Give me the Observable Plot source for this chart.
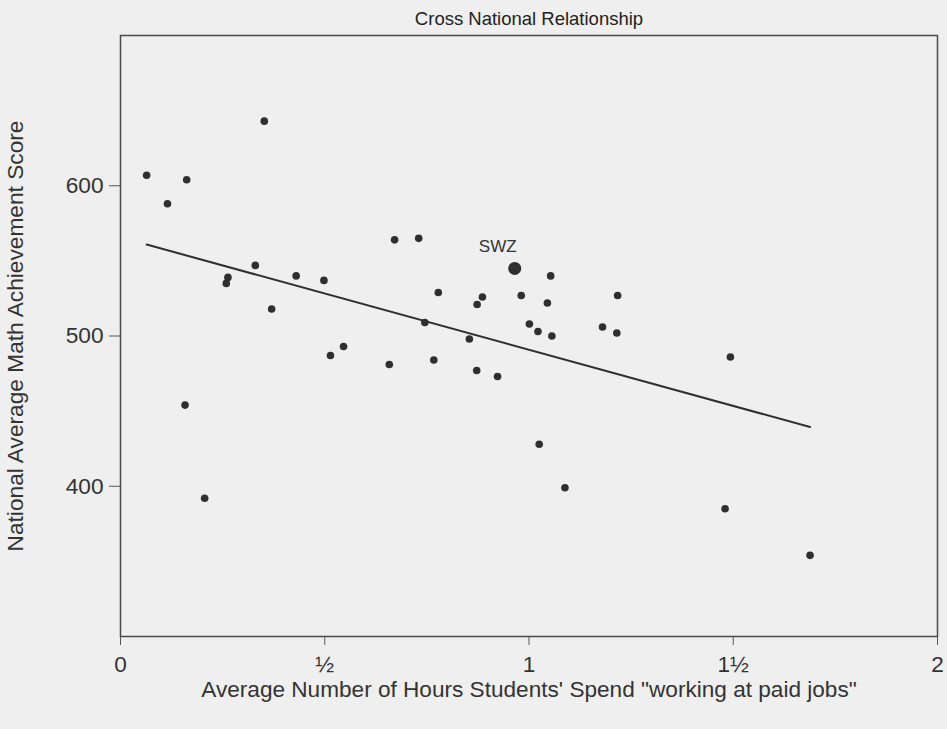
<!DOCTYPE html>
<html><head><meta charset="utf-8">
<script src="https://cdn.jsdelivr.net/npm/d3@7"></script>
<script src="https://cdn.jsdelivr.net/npm/@observablehq/plot@0.6"></script>
<style>
html,body{margin:0;padding:0;background:#efefef;}
#chart svg{display:block;}
</style></head><body><div id="chart"></div>
<script>
const hours = [0.064,0.162,0.115,0.352,0.330,0.263,0.259,0.430,0.498,0.370,
  0.671,0.730,0.965,0.778,0.886,0.873,0.981,0.745,0.854,1.001,
  1.022,0.546,1.053,1.045,1.217,1.056,1.180,1.215,0.158,0.206,
  0.514,0.658,0.767,0.872,0.923,1.025,1.493,1.088,1.480,1.688];
const scores = [607,604,588,643,547,539,535,540,537,518,
  564,565,545,529,526,521,527,509,498,508,
  503,493,540,522,527,500,506,502,454,392,
  487,481,484,477,473,428,486,399,385,354];
const labels = ["","","","","","","","","","",
  "","","SWZ","","","","","","","",
  "","","","","","","","","","",
  "","","","","","","","","",""];
const xTicks = [0, 0.5, 1, 1.5, 2];
const xTickLabels = ["0", "½", "1", "1½", "2"];
const yTicks = [400, 500, 600];
const title = "Cross National Relationship";
const xLabel = "Average Number of Hours Students' Spend \"working at paid jobs\"";
const yLabel = "National Average Math Achievement Score";

const data = hours.map((h, i) => ({hours: h, score: scores[i], label: labels[i]}));
const ink = "#2f2f2f";

const chart = Plot.plot({
  width: 947, height: 729,
  marginLeft: 120, marginRight: 10, marginTop: 35, marginBottom: 93,
  style: {background: "#efefef", fontFamily: "Liberation Sans, Arial, sans-serif", fontSize: "22px", color: "#333"},
  x: {domain: [0, 2], labelArrow: "none"},
  y: {domain: [300, 700], labelArrow: "none"},
  marks: [
    Plot.frame({stroke: "#4a4a4a", strokeWidth: 1.5}),
    Plot.axisX({ticks: xTicks, tickFormat: d => xTickLabels[xTicks.indexOf(d)], tickSize: 9, tickPadding: 10,
      label: xLabel, labelAnchor: "center", labelOffset: 60, labelArrow: "none", fontSize: 22.6, stroke: "#555", fill: "#333"}),
    Plot.axisY({ticks: yTicks, tickSize: 11, tickPadding: 6,
      label: yLabel, labelAnchor: "center", labelOffset: 114, labelArrow: "none", fontSize: 22.7, stroke: "#555", fill: "#333"}),
    Plot.linearRegressionY(data, {x: "hours", y: "score", ci: 0, stroke: ink, strokeWidth: 2}),
    Plot.dot(data.filter(d => !d.label), {x: "hours", y: "score", r: 3.8, fill: ink, stroke: "none"}),
    Plot.dot(data.filter(d => d.label), {x: "hours", y: "score", r: 6.5, fill: ink, stroke: "none"}),
    Plot.text(data.filter(d => d.label), {x: "hours", y: "score", text: "label", dx: -17, dy: -22, fontSize: 17, fill: "#333"}),
    Plot.text([title], {frameAnchor: "top", dy: -24, fontSize: 18.5, fill: "#222"})
  ]
});
document.getElementById("chart").append(chart);
</script></body></html>
